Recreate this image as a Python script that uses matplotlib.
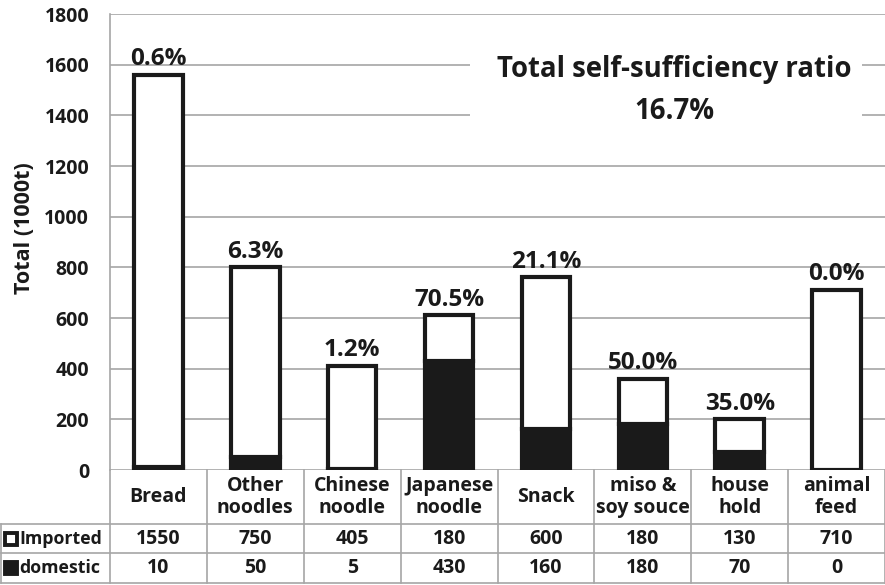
import numpy as np
import matplotlib
matplotlib.use('Agg')
import matplotlib.pyplot as plt
import matplotlib.transforms as mtransforms
from matplotlib.patches import Rectangle

plt.rcParams['font.family'] = ['Open Sans', 'DejaVu Sans']
plt.rcParams['font.weight'] = 'bold'

categories = ['Bread', 'Other\nnoodles', 'Chinese\nnoodle', 'Japanese\nnoodle',
              'Snack', 'miso &\nsoy souce', 'house\nhold', 'animal\nfeed']
imported = [1550, 750, 405, 180, 600, 180, 130, 710]
domestic = [10, 50, 5, 430, 160, 180, 70, 0]
yticks = [0, 200, 400, 600, 800, 1000, 1200, 1400, 1600, 1800]

imp = np.array(imported)
dom = np.array(domestic)
total = imp + dom


def pct(v):
    # round half up, like the spreadsheet does
    return '%.1f%%' % (np.floor(v * 10 + 0.5) / 10)


ratios = [pct(d / t * 100) for d, t in zip(dom, total)]
total_ratio = pct(dom.sum() / total.sum() * 100)

W, H = 885, 585
fig = plt.figure(figsize=(W / 100, H / 100), dpi=100)
ax = fig.add_axes([110 / W, 115 / H, 775 / W, 456 / H])

grid_c = '#a6a6a6'
ink = '#1a1a1a'
x = np.arange(len(categories))
ax.bar(x, dom, width=0.5, color=ink, edgecolor=ink, linewidth=3, zorder=3)
ax.bar(x, imp, width=0.5, bottom=dom, color='white', edgecolor=ink, linewidth=3, zorder=3)

for xi, t, r in zip(x, total, ratios):
    ax.annotate(r, (xi, t), xytext=(0, 7), textcoords='offset points',
                ha='center', va='baseline', fontsize=17.5, fontweight='bold', color=ink)

ax.set_xlim(-0.5, len(categories) - 0.5)
ax.set_ylim(0, 1800)
ax.set_yticks(yticks)
ax.set_xticks([])
ax.yaxis.grid(True, color=grid_c, linewidth=1.2)
ax.set_axisbelow(True)
ax.tick_params(axis='y', length=0, pad=15, labelsize=14, labelcolor=ink)
for s in ['top', 'right', 'bottom']:
    ax.spines[s].set_visible(False)
ax.spines['left'].set_color(grid_c)
ax.spines['left'].set_linewidth(1.2)
ax.set_ylabel('Total (1000t)', fontsize=15.5, fontweight='bold', color=ink)
ax.yaxis.set_label_coords(-0.097, 0.531)


# white box with the overall ratio
def axy(py):
    return (470 - py) / 456


ax.add_patch(Rectangle(((470 - 110) / 775, axy(135)), (862 - 470) / 775, 90 / 456,
                       transform=ax.transAxes, facecolor='white', edgecolor='none', zorder=2))
ax.text(0.728, axy(77), 'Total self-sufficiency ratio', transform=ax.transAxes,
        ha='center', va='baseline', fontsize=19.8, fontweight='bold', color=ink, zorder=4)
ax.text(0.728, axy(119), total_ratio, transform=ax.transAxes,
        ha='center', va='baseline', fontsize=19.8, fontweight='bold', color=ink, zorder=4)

# data table under the chart
col_w = 775 / len(categories)


def dx(px):
    return -0.5 + (px - 110) / col_w


trans = mtransforms.blended_transform_factory(ax.transData, ax.transAxes)
line_kw = dict(color=grid_c, linewidth=1.2, transform=trans, clip_on=False)
left = dx(1)
right = len(categories) - 0.5
y_top, y_r1, y_r2, y_bot = axy(470), axy(524), axy(553), axy(583)

for k in range(len(categories) + 1):
    ax.plot([k - 0.5, k - 0.5], [y_top, y_bot], **line_kw)
ax.plot([left, left], [y_r1, y_bot], **line_kw)
for yy in [y_r1, y_r2, y_bot]:
    ax.plot([left, right], [yy, yy], **line_kw)

txt_kw = dict(transform=trans, ha='center', va='center', fontsize=14,
              fontweight='bold', color=ink, clip_on=False)
for xi, c, iv, dv in zip(x, categories, imported, domestic):
    ax.text(xi, (y_top + y_r1) / 2, c, linespacing=1.1, **txt_kw)
    ax.text(xi, (y_r1 + y_r2) / 2, str(iv), **txt_kw)
    ax.text(xi, (y_r2 + y_bot) / 2, str(dv), **txt_kw)

row_labels = ['Imported', 'domestic']
row_y = [(y_r1 + y_r2) / 2, (y_r2 + y_bot) / 2]
faces = ['white', ink]
for lab, yy, fc in zip(row_labels, row_y, faces):
    ax.plot([dx(11)], [yy], marker='s', markersize=8, markerfacecolor=fc,
            markeredgecolor=ink, markeredgewidth=2.8, transform=trans, clip_on=False)
    ax.text(dx(19), yy, lab, transform=trans, ha='left', va='center', fontsize=12.8,
            fontweight='bold', color=ink, clip_on=False)

fig.savefig('out.png', dpi=100)
